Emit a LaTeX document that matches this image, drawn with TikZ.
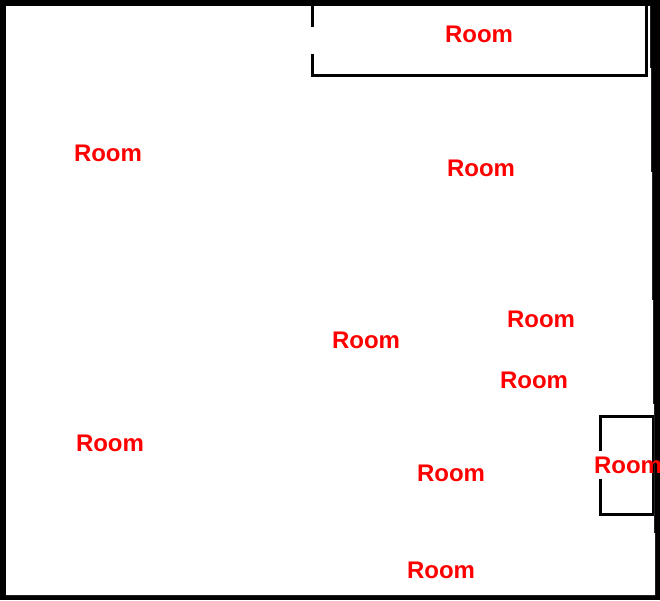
\documentclass[tikz,border=0pt]{standalone}
\usepackage{fontspec}
\setmainfont{Liberation Sans}
\tikzset{
  roomlabel/.style={text=red,font=\fontsize{24}{24}\selectfont\bfseries,inner sep=0pt,anchor=center},
  wall/.style={draw=black,line width=3pt,line cap=butt}
}
\begin{document}
\begin{tikzpicture}[x=1pt,y=-1pt]
\useasboundingbox (0,0) rectangle (660,600);
% outer wall: black ground with a white floor whose right edge steps
\fill[black] (0,0) rectangle (660,600);
\fill[white] (6,6) -- (650,6) -- (650,68) -- (651,68) -- (651,172) -- (652,172) -- (652,300) -- (653,300) -- (653,404) -- (654,404) -- (654,533) -- (655,533) -- (655,595) -- (6,595) -- cycle;
% upper room
\draw[wall] (312.5,6) -- (312.5,27);
\draw[wall] (312.5,54) -- (312.5,75.5) -- (646.5,75.5) -- (646.5,6);
% small room
\draw[wall] (600,451) -- (600,416.5) -- (654,416.5);
\draw[wall] (600,479) -- (600,514.5) -- (654,514.5);
\fill[black] (651.5,416) rectangle (654,515);
% labels
\node[roomlabel] (r1) at (479,34) {Room};
\node[roomlabel] (r2) at (108,153) {Room};
\node[roomlabel] (r3) at (481,168) {Room};
\node[roomlabel] (r4) at (541,319) {Room};
\node[roomlabel] (r5) at (366,340) {Room};
\node[roomlabel] (r6) at (534,380) {Room};
\node[roomlabel] (r7) at (110,443) {Room};
\node[roomlabel] (r8) at (451,473) {Room};
\node[roomlabel] (r9) at (628,465) {Room};
\node[roomlabel] (r10) at (441,570) {Room};
\end{tikzpicture}
\end{document}
